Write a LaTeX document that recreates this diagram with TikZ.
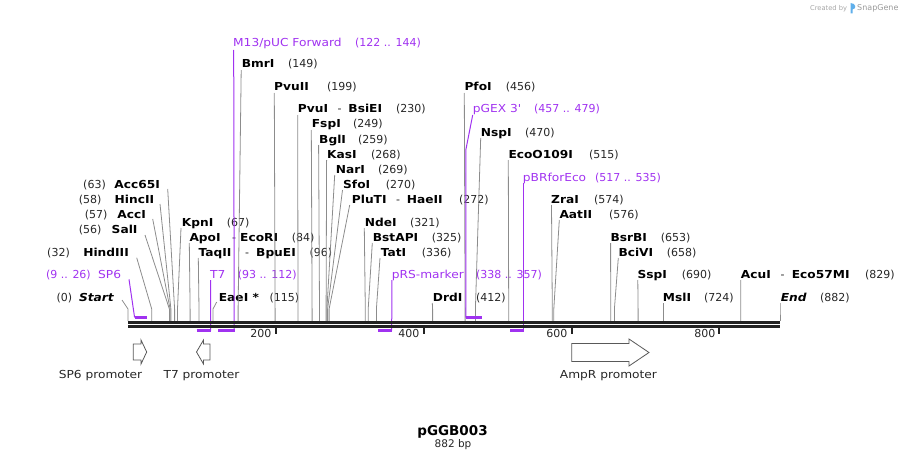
\documentclass[tikz,border=0pt]{standalone}
\usepackage{fontspec}
\setmainfont{DejaVu Sans}
\newfontfamily\widefont{DejaVu Sans}[FakeStretch=1.11]
\usepackage{xcolor}
\definecolor{primer}{RGB}{160,50,240}
\definecolor{darkline}{RGB}{34,34,34}
\definecolor{sitegray}{RGB}{140,140,140}
\definecolor{logoblue}{RGB}{95,175,235}

\begin{document}
\begin{tikzpicture}[x=1pt, y=-1pt,
    enz/.style={font=\widefont\fontsize{11}{13}\selectfont\bfseries, inner sep=0pt},
    num/.style={font=\fontsize{11}{13}\selectfont, inner sep=0pt, text=black!85},
    prim/.style={font=\widefont\fontsize{11}{13}\selectfont, inner sep=0pt, text=primer},
    primnum/.style={font=\fontsize{11}{13}\selectfont, inner sep=0pt, text=primer},
    featlabel/.style={font=\widefont\fontsize{11}{13}\selectfont, inner sep=0pt, text=black!85},
    site/.style={draw=sitegray, line width=0.8pt},
    primline/.style={draw=primer, line width=1pt},
    primbar/.style={draw=primer, line width=2.5pt},
    feat/.style={draw=black!65, fill=white, line width=0.8pt}]
    \useasboundingbox (0,0) rectangle (908,460);

    % Watermark
    \node[font=\fontsize{6.7}{8}\selectfont, text=gray!70, inner sep=0pt, anchor=base west] (made) at (810,11) {Created by};
    \fill[logoblue] (850.5,13.5) -- (850.5,3) .. controls (856,3) and (857,9) .. (852.5,9.5) -- (852.5,13.5) -- cycle;
    \node[font=\fontsize{8}{9}\selectfont, text=gray!80, inner sep=0pt, anchor=base west] (brand) at (857,11) {SnapGene};

    % Enzyme labels, left side
    \node[enz, anchor=base east] (acc65) at (160,188) {Acc65I};
    \node[num, anchor=base east] (acc65n) at (106,188) {(63)};
    \node[enz, anchor=base east] (hinc) at (154.3,203) {HincII};
    \node[num, anchor=base east] (hincn) at (101.7,203) {(58)};
    \node[enz, anchor=base east] (acc) at (146,218) {AccI};
    \node[num, anchor=base east] (accn) at (107.7,218) {(57)};
    \node[enz, anchor=base east] (sal) at (137.7,233) {SalI};
    \node[num, anchor=base east] (saln) at (101.7,233) {(56)};
    \node[enz, anchor=base east] (hind) at (129,256) {HindIII};
    \node[num, anchor=base east] (hindn) at (70,256) {(32)};
    \node[prim, anchor=base east] (sp6) at (121.3,278) {SP6};
    \node[primnum, anchor=base east] (sp6n) at (91,278) {(9 .. 26)};
    \node[enz, anchor=base east] (start) at (114,301) {\itshape Start};
    \node[num, anchor=base east] (startn) at (72.3,301) {(0)};

    % Enzyme labels, right side
    \node[prim, anchor=base west] (m13) at (233,47) {M13/pUC Forward};
    \node[primnum, anchor=base west] (m13n) at (355,47) {(122 .. 144)};
    \node[enz, anchor=base west] (bmr) at (241.7,68) {BmrI};
    \node[num, anchor=base west] (bmrn) at (288,68) {(149)};
    \node[enz, anchor=base west] (pvuii) at (274,91) {PvuII};
    \node[num, anchor=base west] (pvuiin) at (327,91) {(199)};
    \node[enz, anchor=base west] (pvui) at (297.7,113) {PvuI};
    \node[num, anchor=base west] (pvuid) at (337.5,113) {-};
    \node[enz, anchor=base east] (bsiei) at (382.3,113) {BsiEI};
    \node[num, anchor=base west] (bsiein) at (396,113) {(230)};
    \node[enz, anchor=base west] (fsp) at (311.7,128) {FspI};
    \node[num, anchor=base west] (fspn) at (353,128) {(249)};
    \node[enz, anchor=base west] (bgl) at (319,143) {BglI};
    \node[num, anchor=base west] (bgln) at (358,143) {(259)};
    \node[enz, anchor=base west] (kas) at (327,158) {KasI};
    \node[num, anchor=base west] (kasn) at (371,158) {(268)};
    \node[enz, anchor=base west] (nar) at (335.7,173) {NarI};
    \node[num, anchor=base west] (narn) at (378,173) {(269)};
    \node[enz, anchor=base west] (sfo) at (343,188) {SfoI};
    \node[num, anchor=base west] (sfon) at (385.7,188) {(270)};
    \node[enz, anchor=base west] (plu) at (351.7,203) {PluTI};
    \node[num, anchor=base west] (plud) at (396,203) {-};
    \node[enz, anchor=base west] (hae) at (406.7,203) {HaeII};
    \node[num, anchor=base west] (haen) at (459,203) {(272)};
    \node[enz, anchor=base west] (nde) at (364.7,226) {NdeI};
    \node[num, anchor=base west] (nden) at (410,226) {(321)};
    \node[enz, anchor=base west] (bstapi) at (372.7,241) {BstAPI};
    \node[num, anchor=base west] (bstapin) at (431.7,241) {(325)};
    \node[enz, anchor=base west] (tat) at (380.7,256) {TatI};
    \node[num, anchor=base west] (tatn) at (421.7,256) {(336)};
    \node[prim, anchor=base west] (prs) at (391.7,278) {pRS-marker};
    \node[primnum, anchor=base west] (prsn) at (476,278) {(338 .. 357)};
    \node[enz, anchor=base west] (drd) at (432.7,301) {DrdI};
    \node[num, anchor=base west] (drdn) at (476,301) {(412)};
    \node[enz, anchor=base west] (kpn) at (181.7,226) {KpnI};
    \node[num, anchor=base west] (kpnn) at (226.7,226) {(67)};
    \node[enz, anchor=base west] (apo) at (189.3,241) {ApoI};
    \node[num, anchor=base west] (apod) at (232,241) {-};
    \node[enz, anchor=base west] (ecori) at (240,241) {EcoRI};
    \node[num, anchor=base west] (ecorin) at (291.7,241) {(84)};
    \node[enz, anchor=base west] (taq) at (198.3,256) {TaqII};
    \node[num, anchor=base west] (taqd) at (245,256) {-};
    \node[enz, anchor=base west] (bpu) at (256,256) {BpuEI};
    \node[num, anchor=base west] (bpun) at (309.3,256) {(96)};
    \node[prim, anchor=base west] (t7) at (210,278) {T7};
    \node[primnum, anchor=base west] (t7n) at (237.7,278) {(93 .. 112)};
    \node[enz, anchor=base west] (eae) at (218.7,301) {EaeI *};
    \node[num, anchor=base west] (eaen) at (269.3,301) {(115)};
    \node[enz, anchor=base west] (pfo) at (464.3,91) {PfoI};
    \node[num, anchor=base west] (pfon) at (505.7,91) {(456)};
    \node[prim, anchor=base west] (pgex) at (472.7,113) {pGEX 3\textquotesingle};
    \node[primnum, anchor=base west] (pgexn) at (534,113) {(457 .. 479)};
    \node[enz, anchor=base west] (nsp) at (480.7,136) {NspI};
    \node[num, anchor=base west] (nspn) at (525,136) {(470)};
    \node[enz, anchor=base west] (eco109) at (508.3,158) {EcoO109I};
    \node[num, anchor=base west] (eco109n) at (589,158) {(515)};
    \node[prim, anchor=base west] (pbr) at (522.7,181) {pBRforEco};
    \node[primnum, anchor=base west] (pbrn) at (595,181) {(517 .. 535)};
    \node[enz, anchor=base west] (zra) at (551,203) {ZraI};
    \node[num, anchor=base west] (zran) at (594,203) {(574)};
    \node[enz, anchor=base west] (aat) at (559.3,218) {AatII};
    \node[num, anchor=base west] (aatn) at (609,218) {(576)};
    \node[enz, anchor=base west] (bsrb) at (610.3,241) {BsrBI};
    \node[num, anchor=base west] (bsrbn) at (660.7,241) {(653)};
    \node[enz, anchor=base west] (bci) at (618.3,256) {BciVI};
    \node[num, anchor=base west] (bcin) at (666.7,256) {(658)};
    \node[enz, anchor=base west] (ssp) at (637.3,278) {SspI};
    \node[num, anchor=base west] (sspn) at (681.7,278) {(690)};
    \node[enz, anchor=base west] (acu) at (740.7,278) {AcuI};
    \node[num, anchor=base west] (acud) at (780.5,278) {-};
    \node[enz, anchor=base west] (eco57) at (791.7,278) {Eco57MI};
    \node[num, anchor=base west] (eco57n) at (865,278) {(829)};
    \node[enz, anchor=base west] (msl) at (662.7,301) {MslI};
    \node[num, anchor=base west] (msln) at (704,301) {(724)};
    \node[enz, anchor=base west] (end) at (780.7,301) {\itshape End};
    \node[num, anchor=base west] (endn) at (820,301) {(882)};

    % Lines from labels to cut sites
    \draw[site] ([shift={(7.7,1)}]acc65.base east) -- (174.6,309) -- (174.6,321);
    \draw[site] ([shift={(5.7,1)}]hinc.base east) -- (170.9,309) -- (170.9,321);
    \draw[site] ([shift={(6.7,1)}]acc.base east) -- (170.1,309) -- (170.1,321);
    \draw[site] ([shift={(7.3,2)}]sal.base east) -- (169.4,309) -- (169.4,321);
    \draw[site] ([shift={(7.7,1.7)}]hind.base east) -- (151.7,309) -- (151.7,321);
    \draw[site] ([shift={(8,-1)}]start.base east) -- (128,309) -- (128,321);
    \draw[site] ([shift={(-0.5,2)}]bmr.base west) -- (238.1,309) -- (238.1,321);
    \draw[site] ([shift={(0.3,2)}]pvuii.base west) -- (275.1,309) -- (275.1,321);
    \draw[site] ([shift={(0,2)}]pvui.base west) -- (298,309) -- (298,321);
    \draw[site] ([shift={(-0.4,2)}]fsp.base west) -- (312.1,309) -- (312.1,321);
    \draw[site] ([shift={(-0.4,2)}]bgl.base west) -- (319.5,309) -- (319.5,321);
    \draw[site] ([shift={(-0.4,2)}]kas.base west) -- (326.1,309) -- (326.1,321);
    \draw[site] ([shift={(-1,2)}]nar.base west) -- (326.9,309) -- (326.9,321);
    \draw[site] ([shift={(-0.5,2)}]sfo.base west) -- (327.6,309) -- (327.6,321);
    \draw[site] ([shift={(-2,2)}]plu.base west) -- (329.1,309) -- (329.1,321);
    \draw[site] ([shift={(-0.4,2)}]nde.base west) -- (365.3,309) -- (365.3,321);
    \draw[site] ([shift={(-0.4,2)}]bstapi.base west) -- (368.2,309) -- (368.2,321);
    \draw[site] ([shift={(-0.7,2)}]tat.base west) -- (376.4,309) -- (376.4,321);
    \draw[site] ([shift={(-0.4,2)}]drd.base west) -- (432.6,309) -- (432.6,321);
    \draw[site] ([shift={(-0.7,2)}]kpn.base west) -- (177.5,309) -- (177.5,321);
    \draw[site] ([shift={(0,2)}]apo.base west) -- (190.1,309) -- (190.1,321);
    \draw[site] ([shift={(0,2)}]taq.base west) -- (199,309) -- (199,321);
    \draw[site] ([shift={(-2,1)}]eae.base west) -- (213,309) -- (213,321);
    \draw[site] ([shift={(0,2)}]pfo.base west) -- (465.1,309) -- (465.1,321);
    \draw[site] ([shift={(0,2)}]nsp.base west) -- (475.4,309) -- (475.4,321);
    \draw[site] ([shift={(0,2)}]eco109.base west) -- (508.7,309) -- (508.7,321);
    \draw[site] ([shift={(0.5,2)}]zra.base west) -- (552.3,309) -- (552.3,321);
    \draw[site] ([shift={(0,2)}]aat.base west) -- (553.8,309) -- (553.8,321);
    \draw[site] ([shift={(0.3,2)}]bsrb.base west) -- (610.7,309) -- (610.7,321);
    \draw[site] ([shift={(0,2)}]bci.base west) -- (614.4,309) -- (614.4,321);
    \draw[site] ([shift={(0.5,2)}]ssp.base west) -- (638.1,309) -- (638.1,321);
    \draw[site] ([shift={(0.5,2)}]msl.base west) -- (663.2,309) -- (663.2,321);
    \draw[site] ([shift={(0,2)}]acu.base west) -- (740.8,309) -- (740.8,321);
    \draw[site] ([shift={(-0.7,2)}]end.base west) -- (780,309) -- (780,321);

    % Primers
    \draw[primline] ([shift={(7.7,1.3)}]sp6.base east) -- (134.6,317.5);
    \draw[primbar] (134.6,317.5) -- (147.2,317.5);
    \draw[primline] ([shift={(0.7,3)}]m13.base west) -- (234.2,330.5);
    \draw[primbar] (218.2,330.5) -- (234.5,330.5);
    \draw[primline] ([shift={(0.7,2)}]t7.base west) -- (210.6,330.5);
    \draw[primbar] (196.7,330.5) -- (210.8,330.5);
    \draw[primline] ([shift={(0.2,2)}]prs.base west) -- (391.7,330.5);
    \draw[primbar] (377.9,330.5) -- (391.9,330.5);
    \draw[primline] ([shift={(0,2)}]pgex.base west) -- (465.8,150) -- (465.8,317.5);
    \draw[primbar] (465.8,317.5) -- (482.1,317.5);
    \draw[primline] ([shift={(0.8,2)}]pbr.base west) -- (523.5,330.5);
    \draw[primbar] (510.2,330.5) -- (523.5,330.5);

    % Backbone and ticks
    \draw[darkline, line width=3pt] (128,322.2) -- (780,322.2);
    \draw[darkline, line width=3pt] (128,326.8) -- (780,326.8);
    \draw[darkline, line width=2pt] (275.8,327) -- (275.8,334);
    \draw[darkline, line width=2pt] (423.7,327) -- (423.7,334);
    \draw[darkline, line width=2pt] (571.5,327) -- (571.5,334);
    \draw[darkline, line width=2pt] (719.4,327) -- (719.4,334);
    \node[num, anchor=base east] (t200) at (271.5,337.5) {200};
    \node[num, anchor=base east] (t400) at (419.5,337.5) {400};
    \node[num, anchor=base east] (t600) at (567.5,337.5) {600};
    \node[num, anchor=base east] (t800) at (715.5,337.5) {800};

    % Promoter features
    \draw[feat] (133.3,344) -- (141,344) -- (141,340) -- (146.7,352) -- (141,364) -- (141,360) -- (133.3,360) -- cycle;
    \draw[feat] (210,344) -- (203.5,344) -- (203.5,340) -- (196.5,352) -- (203.5,364) -- (203.5,360) -- (210,360) -- cycle;
    \draw[feat] (571.7,343.5) -- (629,343.5) -- (629,339) -- (649,352.5) -- (629,366) -- (629,361.5) -- (571.7,361.5) -- cycle;
    \node[featlabel, anchor=base] (sp6prom) at (100.5,378) {SP6 promoter};
    \node[featlabel, anchor=base] (t7prom) at (201.5,378) {T7 promoter};
    \node[featlabel, anchor=base] (ampprom) at (608.5,378) {AmpR promoter};

    % Name and size
    \node[font=\fontsize{13.5}{15}\selectfont\bfseries, inner sep=0pt, anchor=base] (title) at (452.5,435) {pGGB003};
    \node[num, font=\fontsize{10.5}{12}\selectfont, anchor=base] (bp) at (453,447) {882 bp};
\end{tikzpicture}
\end{document}
